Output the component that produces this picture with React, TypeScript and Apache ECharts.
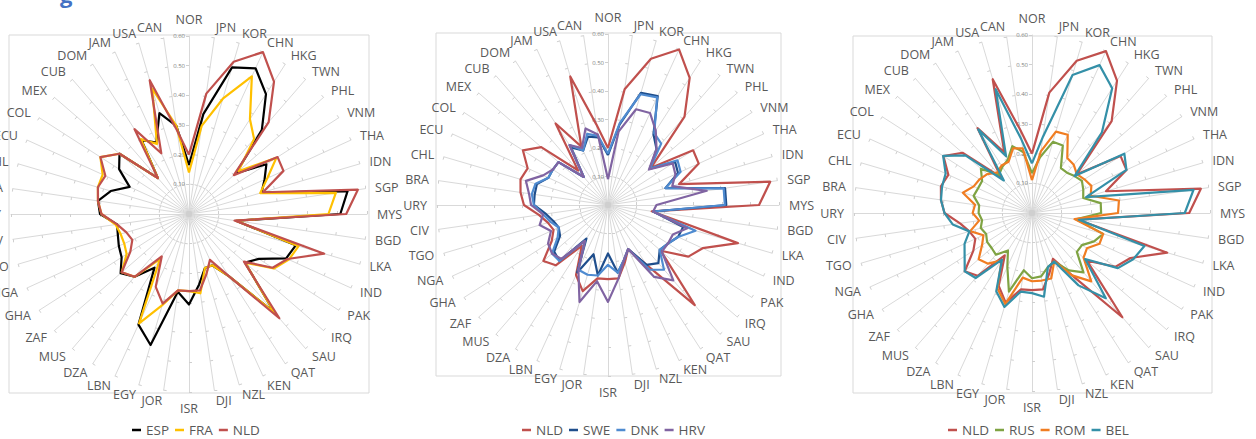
import React, { useEffect, useRef } from 'react';
import * as echarts from 'echarts';

const CATEGORIES = ['NOR','JPN','KOR','CHN','HKG','TWN','PHL','VNM','THA','IDN','SGP','MYS','BGD','LKA','IND','PAK','IRQ','SAU','QAT','KEN','NZL','DJI','ISR','JOR','EGY','LBN','DZA','MUS','ZAF','GHA','NGA','TGO','CIV','URY','BRA','CHL','ECU','COL','MEX','CUB','DOM','JAM','USA','CAN'];

const AXIS_MIN = 0;
const AXIS_MAX = 0.6;
const AXIS_SPLITS = 6;

const NLD = [.20,.41,.535,.60,.53,.41,.20,.355,.35,.26,.575,.53,.155,.475,.365,.335,.245,.465,.25,.17,.21,.26,.26,.26,.315,.27,.17,.28,.30,.235,.21,.22,.245,.295,.31,.32,.31,.355,.31,.16,.34,.225,.47,.285];
const ESP = [.165,.34,.515,.54,.48,.375,.21,.31,.28,.255,.54,.51,.16,.375,.36,.28,.25,.44,.25,.19,.19,.24,.305,.265,.46,.41,.215,.28,.305,.27,.26,.25,.245,.30,.31,.275,.22,.28,.31,.16,.296,.265,.354,.30];
const FRA = [.14,.30,.405,.51,.38,.335,.22,.35,.29,.25,.50,.47,.16,.385,.37,.34,.25,.44,.25,.19,.19,.27,.26,.26,.32,.405,.18,.28,.30,.25,.24,.24,.25,.295,.31,.32,.32,.355,.31,.16,.30,.26,.44,.30];
const SWE = [.175,.285,.41,.42,.295,.26,.195,.28,.27,.21,.415,.415,.16,.275,.27,.25,.24,.27,.25,.17,.20,.24,.17,.25,.18,.26,.14,.26,.25,.20,.19,.20,.22,.26,.26,.26,.23,.23,.23,.13,.24,.21,.25,.24];
const DNK = [.18,.29,.405,.415,.30,.285,.195,.29,.28,.21,.41,.41,.16,.32,.27,.25,.24,.30,.27,.17,.20,.24,.21,.25,.255,.25,.15,.26,.26,.21,.19,.21,.23,.26,.27,.265,.23,.23,.23,.13,.25,.21,.26,.245];
const HRV = [.09,.26,.35,.355,.31,.26,.19,.27,.26,.235,.35,.17,.16,.29,.25,.25,.25,.35,.30,.17,.20,.26,.34,.27,.355,.25,.15,.25,.26,.25,.22,.25,.23,.27,.28,.30,.25,.23,.23,.13,.25,.22,.28,.25];
const RUS = [.134,.19,.25,.25,.18,.18,.19,.20,.19,.18,.234,.233,.15,.25,.23,.20,.20,.265,.23,.18,.19,.216,.22,.195,.276,.20,.15,.186,.18,.18,.17,.18,.17,.18,.18,.205,.20,.20,.228,.17,.185,.197,.235,.208];
const ROM = [.111,.21,.286,.29,.22,.215,.20,.21,.22,.206,.296,.29,.145,.25,.25,.22,.23,.305,.25,.18,.23,.23,.23,.22,.32,.28,.19,.226,.238,.20,.18,.217,.18,.20,.194,.243,.216,.21,.20,.18,.19,.19,.227,.22];
const BEL = [.167,.26,.485,.548,.50,.36,.19,.37,.35,.19,.55,.515,.16,.395,.375,.344,.237,.38,.29,.18,.19,.285,.27,.268,.33,.29,.187,.29,.30,.27,.25,.22,.27,.295,.31,.316,.32,.356,.297,.145,.335,.21,.435,.25];

const COLORS: Record<string, string> = {
  ESP: '#000000', FRA: '#FFC000', NLD: '#C0504D',
  SWE: '#1F4E8C', DNK: '#4F8BD0', HRV: '#8064A2',
  RUS: '#7FA343', ROM: '#F07D22', BEL: '#3490A8',
};

const PANELS = [
  { names: ['ESP', 'FRA', 'NLD'], values: [ESP, FRA, NLD], center: [189, 214], radius: 178, box: [9, 35, 360, 358], legendLeft: 127 },
  { names: ['NLD', 'SWE', 'DNK', 'HRV'], values: [NLD, SWE, DNK, HRV], center: [608, 205], radius: 171, box: [436, 33, 345, 343], legendLeft: 517 },
  { names: ['NLD', 'RUS', 'ROM', 'BEL'], values: [NLD, RUS, ROM, BEL], center: [1032, 213], radius: 178, box: [853, 36, 359, 357], legendLeft: 943 },
];

const FONT = '"Open Sans", "Liberation Sans", sans-serif';

export default function App() {
  const ref = useRef<HTMLDivElement>(null);
  useEffect(() => {
    document.body.style.margin = '0';
    const chart = echarts.init(ref.current!, undefined, { renderer: 'svg' });
    // clockwise order starting at top
    const order = [0, ...Array.from({ length: CATEGORIES.length - 1 }, (_, k) => CATEGORIES.length - 1 - k)];

    const radar = PANELS.map((p) => {
      const indicator: any[] = order.map((i) => ({ name: CATEGORIES[i], min: AXIS_MIN, max: AXIS_MAX }));
      indicator[0].axisLabel = {
        show: true, fontSize: 6, color: '#808080', fontFamily: FONT,
        showMinLabel: false, margin: 4,
        formatter: (v: number) => v.toFixed(2),
      };
      return {
        center: p.center,
        radius: p.radius,
        startAngle: 90,
        splitNumber: AXIS_SPLITS,
        shape: 'polygon',
        indicator,
        nameGap: 10,
        axisName: { color: '#595959', fontSize: 12.5, fontFamily: FONT },
        splitLine: { show: false },
        splitArea: { show: false },
        axisLine: { lineStyle: { color: '#d9d9d9', width: 1 } },
        axisTick: { show: true, length: 3, lineStyle: { color: '#cfcfcf' } },
        axisLabel: { show: false },
      };
    });

    const series: any[] = [];
    PANELS.forEach((p, pi) => {
      p.names.forEach((n, si) => {
        series.push({
          type: 'radar',
          name: n,
          radarIndex: pi,
          symbol: 'none',
          lineStyle: { width: 2.2, color: COLORS[n] },
          itemStyle: { color: COLORS[n] },
          data: [{ name: n, value: order.map((i) => p.values[si][i]) }],
          z: 3,
        });
      });
    });

    const legend = PANELS.map((p) => ({
      data: p.names,
      left: p.legendLeft,
      top: 418,
      icon: 'rect',
      itemWidth: 9,
      itemHeight: 2.5,
      itemGap: 6,
      selectedMode: false,
      textStyle: { color: '#595959', fontSize: 13.5, fontFamily: FONT },
    }));

    const graphic: any[] = PANELS.map((p) => ({
      type: 'rect',
      shape: { x: p.box[0], y: p.box[1], width: p.box[2], height: p.box[3] },
      style: { fill: 'none', stroke: '#d9d9d9', lineWidth: 1 },
      silent: true,
      z: -1,
    }));
    graphic.push({
      type: 'text', x: 60, y: -17,
      style: { text: 'g', fill: '#4472C4', font: 'bold 22px ' + FONT },
    });

    chart.setOption({
      animation: false,
      backgroundColor: '#ffffff',
      radar,
      series,
      legend,
      graphic,
    });
    return () => chart.dispose();
  }, []);
  return <div ref={ref} style={{ position: 'absolute', left: 0, top: 0, width: 1256, height: 439 }} />;
}
